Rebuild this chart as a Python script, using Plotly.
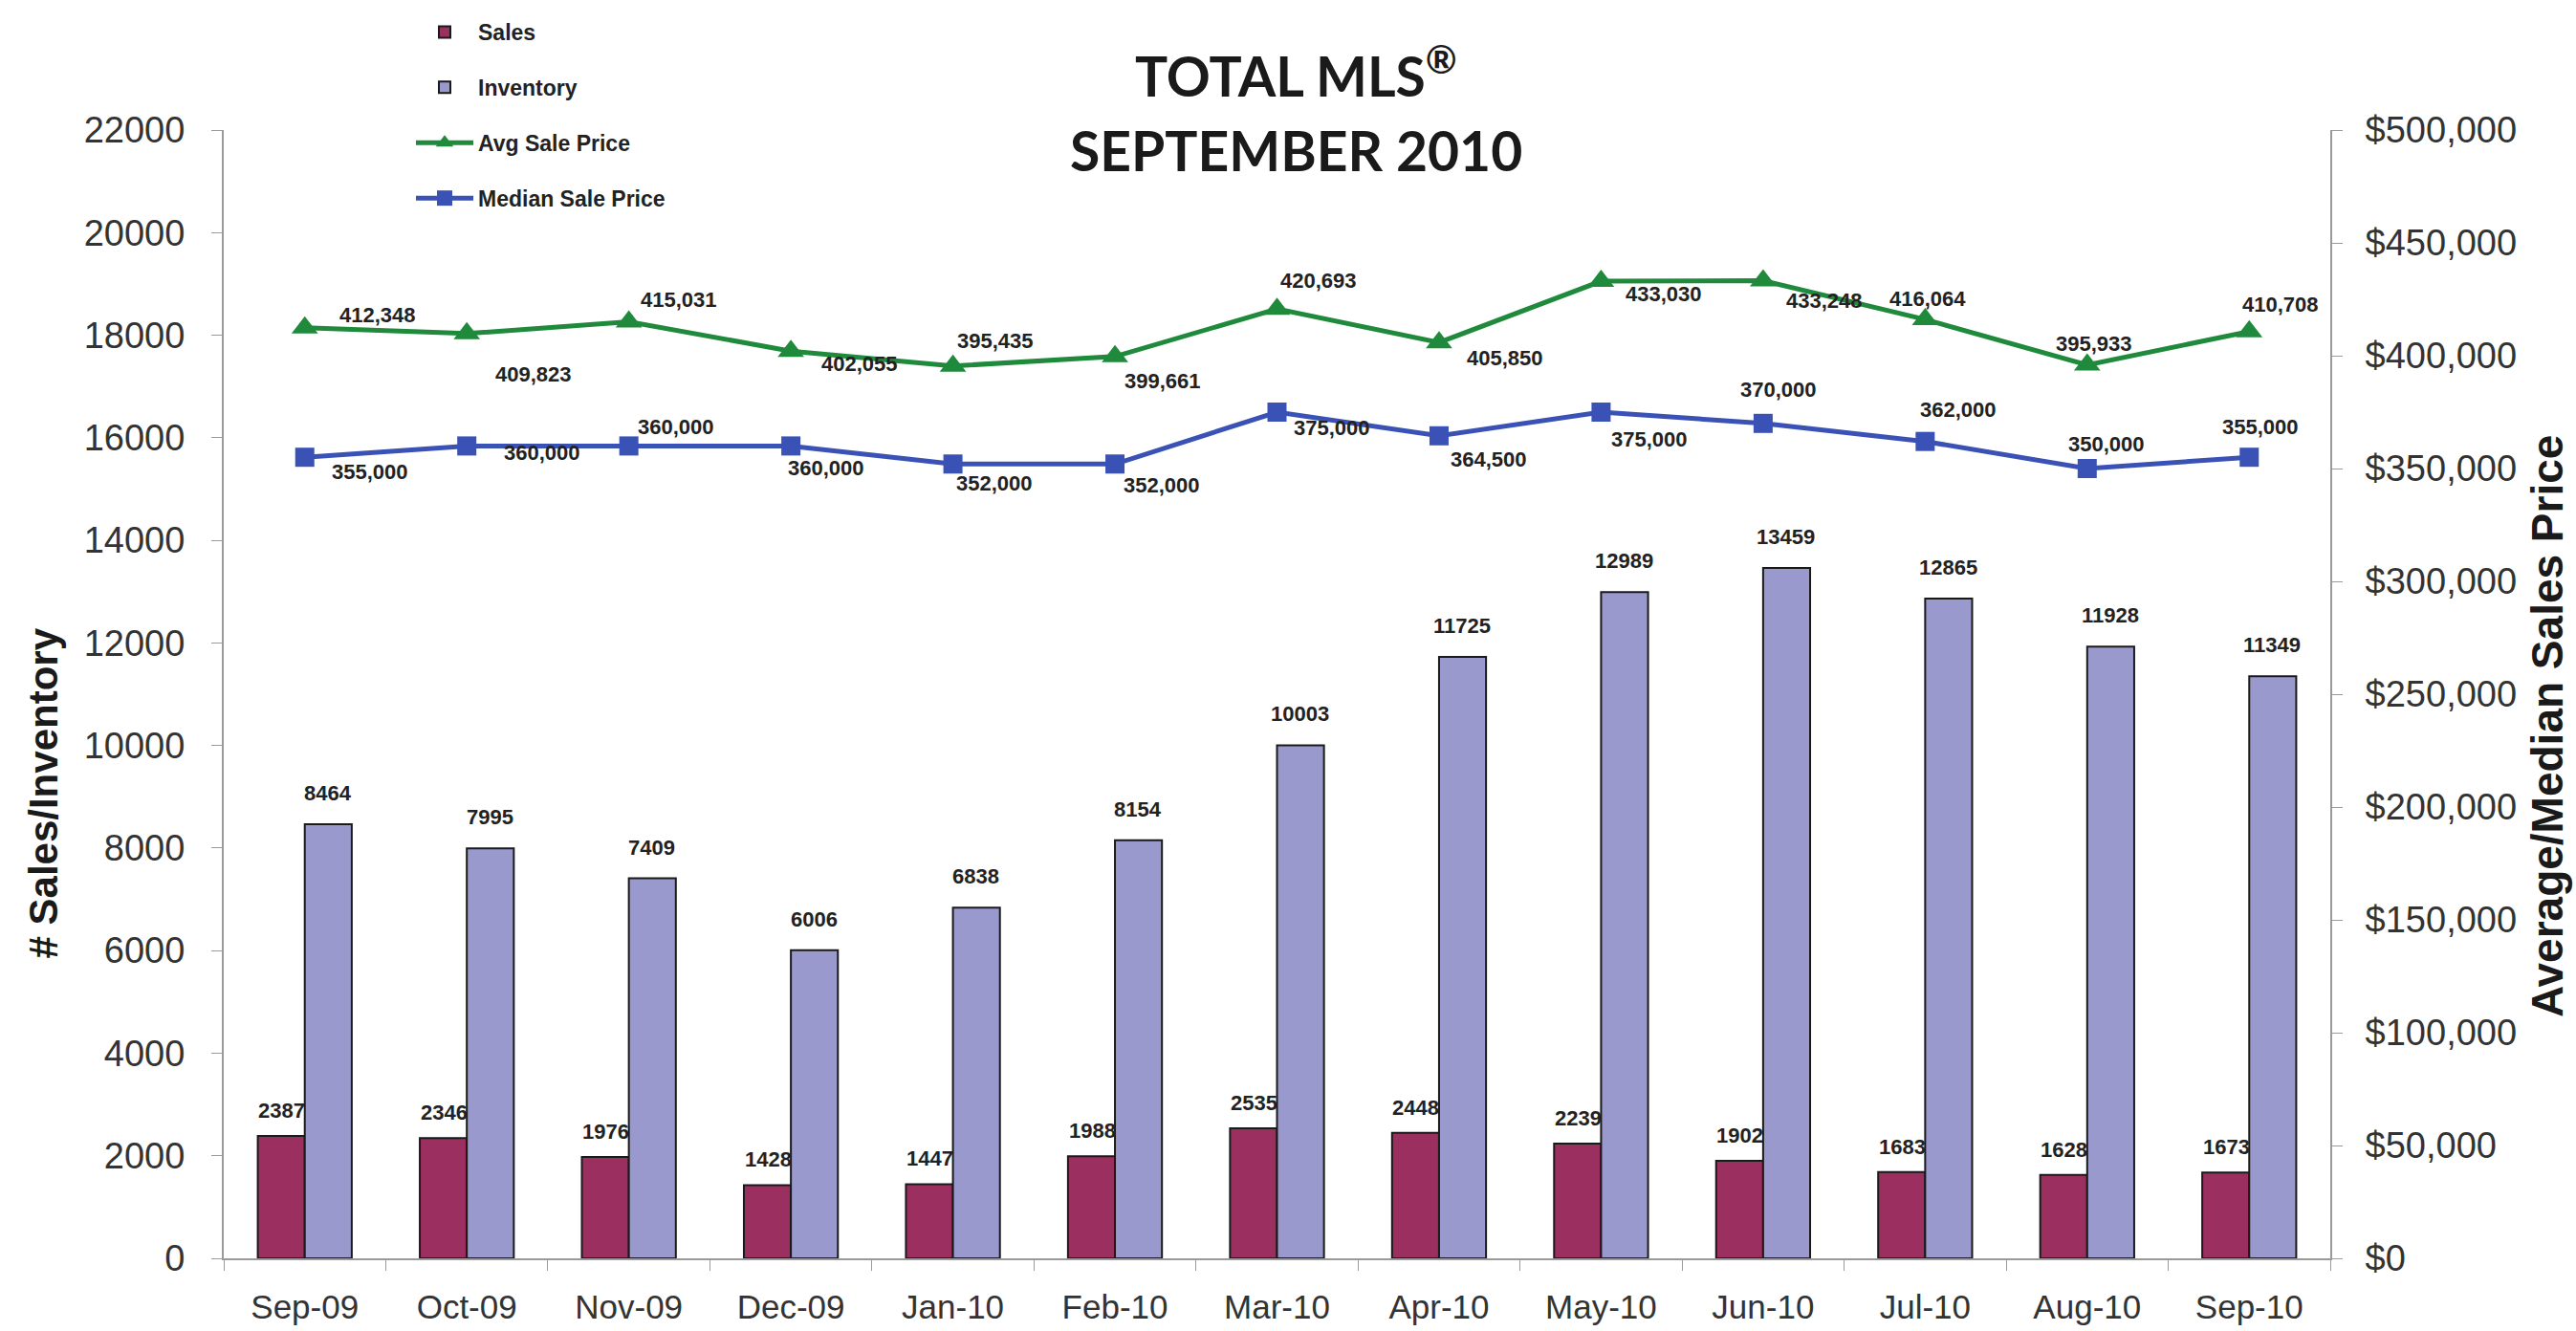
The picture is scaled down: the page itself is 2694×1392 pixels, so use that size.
import plotly.graph_objects as go

# ---------------- data ----------------
months = ["Sep-09", "Oct-09", "Nov-09", "Dec-09", "Jan-10", "Feb-10", "Mar-10",
          "Apr-10", "May-10", "Jun-10", "Jul-10", "Aug-10", "Sep-10"]
sales = [2387, 2346, 1976, 1428, 1447, 1988, 2535, 2448, 2239, 1902, 1683, 1628, 1673]
inventory = [8464, 7995, 7409, 6006, 6838, 8154, 10003, 11725, 12989, 13459, 12865, 11928, 11349]
avg_price = [412348, 409823, 415031, 402055, 395435, 399661, 420693, 405850,
             433030, 433248, 416064, 395933, 410708]
median_price = [355000, 360000, 360000, 360000, 352000, 352000, 375000, 364500,
                375000, 370000, 362000, 350000, 355000]

left_ticks = list(range(0, 22001, 2000))
right_ticks = list(range(0, 500001, 50000))

# label offsets (pixels, dx right, dy down) - styling only
avg_off = [(76, -13), (70, 43), (52, -23), (72, 13), (44, -26), (50, 26), (43, -30),
           (69, 16), (66, 13), (64, 21), (3, -22), (7, -22), (33, -28)]
med_off = [(68, 15), (79, 7), (49, -20), (37, 23), (43, 20), (49, 22), (57, 16),
           (52, 25), (51, 28), (16, -35), (35, -33), (20, -26), (12, -32)]

# ---------------- styles ----------------
SALES_C = "#9B2F60"
INV_C = "#9A99CE"
AVG_C = "#1F8A3B"
MED_C = "#3A52B6"
AXIS_C = "#9a9a9a"
LBL_FONT = dict(family="Liberation Sans, Arial", size=22, color="#222")
TICK_FONT = dict(family="Liberation Sans, Arial", size=38, color="#333")

W, H = 2694, 1392
L, R, T, B = 234, 257, 136, 76
PW, PH = W - L - R, H - T - B

fig = go.Figure()
fig.add_trace(go.Bar(x=months, y=sales, name="Sales",
                     marker=dict(color=SALES_C, line=dict(color="#1a1a1a", width=2)), legendgroup="a"))
fig.add_trace(go.Bar(x=months, y=inventory, name="Inventory",
                     marker=dict(color=INV_C, line=dict(color="#1a1a1a", width=2)), legendgroup="b"))
fig.add_trace(go.Scatter(x=months, y=avg_price, name="Avg Sale Price", yaxis="y2", mode="lines+markers",
                         line=dict(color=AVG_C, width=5), marker=dict(symbol="triangle-up", size=24, color=AVG_C),
                         legendgroup="c"))
fig.add_trace(go.Scatter(x=months, y=median_price, name="Median Sale Price", yaxis="y2", mode="lines+markers",
                         line=dict(color=MED_C, width=5), marker=dict(symbol="square", size=20, color=MED_C),
                         legendgroup="d"))

ann = []
for m, s, i in zip(months, sales, inventory):
    ann.append(dict(x=m, y=s, xref="x", yref="y", text=f"<b>{s}</b>", showarrow=False, xshift=-24, yshift=12,
                    yanchor="bottom", font=LBL_FONT))
    ann.append(dict(x=m, y=i, xref="x", yref="y", text=f"<b>{i}</b>", showarrow=False, xshift=24, yshift=18,
                    yanchor="bottom", font=LBL_FONT))
for m, v, (dx, dy) in zip(months, avg_price, avg_off):
    ann.append(dict(x=m, y=v, xref="x", yref="y2", text=f"<b>{v:,}</b>", showarrow=False, xshift=dx, yshift=-dy,
                    yanchor="middle", font=LBL_FONT))
for m, v, (dx, dy) in zip(months, median_price, med_off):
    ann.append(dict(x=m, y=v, xref="x", yref="y2", text=f"<b>{v:,}</b>", showarrow=False, xshift=dx, yshift=-dy,
                    yanchor="middle", font=LBL_FONT))


def px_x(p):
    return (p - L) / PW


def px_y(p):
    return (H - B - p) / PH


TITLE_FONT = dict(family="Lato, Open Sans, sans-serif", size=57, color="#1a1a1a")
ann.append(dict(x=px_x(1355), y=px_y(75), xref="paper", yref="paper", text="<b>TOTAL MLS<sup>®</sup></b>",
                showarrow=False, font=TITLE_FONT, yanchor="middle"))
ann.append(dict(x=px_x(1355), y=px_y(157), xref="paper", yref="paper", text="<b>SEPTEMBER 2010</b>",
                showarrow=False, font=TITLE_FONT, yanchor="middle"))
ann.append(dict(x=px_x(20), y=px_y(830), xref="paper", yref="paper", text="<b># Sales/Inventory</b>",
                textangle=-90, showarrow=False,
                font=dict(family="Liberation Sans, Arial", size=42, color="#1a1a1a")))
ann.append(dict(x=px_x(2692), y=px_y(760), xref="paper", yref="paper", text="<b>Average/Median Sales Price</b>",
                textangle=-90, showarrow=False,
                font=dict(family="Liberation Sans, Arial", size=46, color="#1a1a1a")))

fig.update_layout(
    width=W, height=H,
    margin=dict(l=L, r=R, t=T, b=B, pad=0),
    paper_bgcolor="white", plot_bgcolor="white",
    barmode="group", bargap=0.42, bargroupgap=0,
    showlegend=True,
    legend=dict(x=px_x(430), y=px_y(12), xanchor="left", yanchor="top", traceorder="grouped",
                tracegroupgap=25, font=dict(family="Liberation Sans, Arial", size=23, color="#222", weight="bold"),
                bgcolor="rgba(0,0,0,0)", itemwidth=60),
    xaxis=dict(type="category", range=[-0.5, len(months) - 0.5], showgrid=False, showline=True,
               linecolor=AXIS_C, linewidth=2, automargin=False,
               ticks="outside", tickson="boundaries", ticklen=11, tickcolor=AXIS_C, tickwidth=1,
               tickfont=dict(family="Liberation Sans, Arial", size=35, color="#333"), ticklabelstandoff=19,
               zeroline=False),
    yaxis=dict(range=[0, 22000], tickvals=left_ticks, ticktext=[str(v) for v in left_ticks],
               showgrid=False, zeroline=False, showline=True, linecolor=AXIS_C, linewidth=2, automargin=False,
               ticks="outside", ticklen=11, tickcolor=AXIS_C, tickfont=TICK_FONT, ticklabelstandoff=20),
    yaxis2=dict(range=[0, 500000], tickvals=right_ticks, ticktext=[f"${v:,}" for v in right_ticks],
                overlaying="y", side="right", showgrid=False, zeroline=False, showline=True, automargin=False,
                linecolor=AXIS_C, linewidth=2, ticks="outside", ticklen=11, tickcolor=AXIS_C,
                tickfont=TICK_FONT, ticklabelstandoff=16),
    yaxis3=dict(range=[0, 22000], tickvals=left_ticks, overlaying="y", side="left", showgrid=False,
                zeroline=False, showline=False, ticks="inside", ticklen=13, tickcolor=AXIS_C,
                showticklabels=False, anchor="x", automargin=False),
    yaxis4=dict(range=[0, 500000], tickvals=right_ticks, overlaying="y", side="right", showgrid=False,
                zeroline=False, showline=False, ticks="inside", ticklen=13, tickcolor=AXIS_C,
                showticklabels=False, anchor="x", automargin=False),
    annotations=ann,
)

fig.write_html("out.html")
